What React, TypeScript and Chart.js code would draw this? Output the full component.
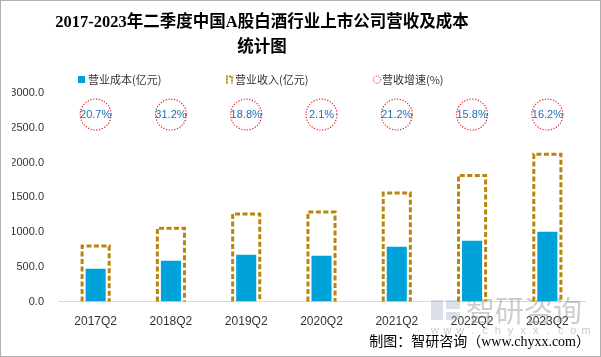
import React, { useEffect, useRef } from 'react';
import { Chart, registerables } from 'chart.js';

Chart.register(...registerables);

const categories = ['2017Q2', '2018Q2', '2019Q2', '2020Q2', '2021Q2', '2022Q2', '2023Q2'];
const costValues = [471, 586, 672, 658, 788, 874, 1004];
const revenueValues = [800, 1055, 1260, 1288, 1562, 1815, 2120];
const growthRates = [20.7, 31.2, 18.8, 2.1, 21.2, 15.8, 16.2];
const growthMarkerLevel = 2690;
const yMax = 3000;
const yStep = 500;

const titleLines = ['2017-2023年二季度中国A股白酒行业上市公司营收及成本', '统计图'];
const legendLabels = ['营业成本(亿元)', '营业收入(亿元)', '营收增速(%)'];
const sourceText = '制图：智研咨询（www.chyxx.com）';

const COST_COLOR = '#00a2da';
const REV_COLOR = '#b8860b';
const CIRCLE_COLOR = '#e0202a';
const LABEL_COLOR = '#1f6fb0';

const overlayPlugin = {
  id: 'overlay',
  beforeDatasetsDraw(chart: any) {
    const ctx = chart.ctx;
    ctx.save();
    // watermark
    ctx.fillStyle = 'rgba(150,165,190,0.35)';
    ctx.fillRect(430, 299, 12, 20);
    ctx.fillRect(445, 299, 14, 9);
    ctx.fillRect(445, 311, 14, 8);
    ctx.fillStyle = 'rgba(130,130,130,0.4)';
    ctx.font = '29px "Noto Sans CJK SC"';
    ctx.textBaseline = 'middle';
    ctx.textAlign = 'left';
    ctx.fillText('智研咨询', 465, 310);
    ctx.font = '11px "Liberation Sans"';
    ctx.fillStyle = 'rgba(150,150,150,0.5)';
    const wm = 'www.chyxx.com'.split('');
    const step = (582 - 431) / (wm.length - 1);
    ctx.textAlign = 'center';
    wm.forEach((c, i) => ctx.fillText(c, 434 + i * step, 330));
    ctx.restore();
  },
  afterDatasetsDraw(chart: any) {
    const ctx = chart.ctx;
    ctx.save();
    // dashed revenue boxes
    const revMeta = chart.getDatasetMeta(1);
    ctx.strokeStyle = REV_COLOR;
    ctx.lineWidth = 3;
    ctx.setLineDash([5, 2.5]);
    revMeta.data.forEach((el: any) => {
      const { x, y, base, width } = el.getProps(['x', 'y', 'base', 'width'], true);
      const l = x - width / 2;
      const r = x + width / 2;
      ctx.beginPath();
      ctx.moveTo(l, base);
      ctx.lineTo(l, y);
      ctx.lineTo(r, y);
      ctx.lineTo(r, base);
      ctx.stroke();
    });
    // growth circles
    const gMeta = chart.getDatasetMeta(2);
    gMeta.data.forEach((el: any, i: number) => {
      const { x, y } = el.getProps(['x', 'y'], true);
      ctx.strokeStyle = CIRCLE_COLOR;
      ctx.lineWidth = 1.2;
      ctx.setLineDash([1.2, 1.6]);
      ctx.beginPath();
      ctx.arc(x, y, 15.5, 0, Math.PI * 2);
      ctx.stroke();
      ctx.setLineDash([]);
      ctx.fillStyle = LABEL_COLOR;
      ctx.font = '11px "Liberation Sans"';
      ctx.textAlign = 'center';
      ctx.textBaseline = 'middle';
      ctx.fillText(growthRates[i].toFixed(1) + '%', x, y + 0.5);
    });
    ctx.restore();
  },
  afterDraw(chart: any) {
    const ctx = chart.ctx;
    ctx.save();
    // title
    ctx.fillStyle = '#000';
    ctx.font = 'bold 16.5px "Liberation Serif", "Noto Sans CJK SC"';
    ctx.textAlign = 'center';
    ctx.textBaseline = 'middle';
    ctx.fillText(titleLines[0], 261, 22);
    ctx.fillText(titleLines[1], 261, 47);
    // legend
    ctx.font = '11px "Noto Sans CJK SC"';
    ctx.textAlign = 'left';
    const ly = 78.5;
    ctx.fillStyle = COST_COLOR;
    ctx.fillRect(77, ly - 3.5, 7, 7);
    ctx.fillStyle = '#333';
    ctx.fillText(legendLabels[0], 87, ly);
    ctx.strokeStyle = REV_COLOR;
    ctx.lineWidth = 2;
    ctx.setLineDash([2, 1]);
    ctx.beginPath();
    ctx.moveTo(226, ly + 4);
    ctx.lineTo(226, ly - 3);
    ctx.lineTo(231, ly - 3);
    ctx.lineTo(231, ly + 4);
    ctx.stroke();
    ctx.fillText(legendLabels[1], 234, ly);
    ctx.strokeStyle = CIRCLE_COLOR;
    ctx.lineWidth = 1;
    ctx.setLineDash([1, 1]);
    ctx.beginPath();
    ctx.arc(376, ly, 3.7, 0, Math.PI * 2);
    ctx.stroke();
    ctx.setLineDash([]);
    ctx.fillText(legendLabels[2], 381, ly);
    // source
    ctx.fillStyle = '#000';
    ctx.font = '14px "Liberation Serif", "Noto Sans CJK SC"';
    ctx.textAlign = 'right';
    ctx.fillText(sourceText, 589, 341);
    ctx.restore();
  },
};

export default function App() {
  const ref = useRef<HTMLCanvasElement | null>(null);
  useEffect(() => {
    if (!ref.current) return;
    const chart = new Chart(ref.current, {
      type: 'bar',
      data: {
        labels: categories,
        datasets: [
          {
            label: legendLabels[0],
            data: costValues,
            backgroundColor: COST_COLOR,
            borderWidth: 0,
            grouped: false,
            categoryPercentage: 0.8,
            barPercentage: 1 / 3,
            order: 1,
          } as any,
          {
            label: legendLabels[1],
            data: revenueValues,
            backgroundColor: 'rgba(0,0,0,0)',
            borderWidth: 0,
            grouped: false,
            categoryPercentage: 0.8,
            barPercentage: 0.45,
            order: 2,
          } as any,
          {
            type: 'line',
            label: legendLabels[2],
            data: categories.map(() => growthMarkerLevel),
            showLine: false,
            pointRadius: 0,
            pointHoverRadius: 0,
          } as any,
        ],
      },
      options: {
        animation: false,
        responsive: true,
        maintainAspectRatio: false,
        layout: { padding: { top: 92, left: 11, right: 15, bottom: 14 } },
        plugins: {
          legend: { display: false },
          title: { display: false },
          tooltip: { enabled: false },
        },
        scales: {
          x: {
            grid: { display: false, drawTicks: false },
            border: { display: true, color: '#d9d9d9', width: 1 },
            ticks: { color: '#333', font: { size: 12, family: '"Liberation Sans"' }, padding: 13 },
          },
          y: {
            min: 0,
            max: yMax,
            grid: { display: false, drawTicks: false },
            border: { display: false },
            afterFit: (scale: any) => {
              scale.width = 46;
            },
            ticks: {
              stepSize: yStep,
              color: '#333',
              font: { size: 11, family: '"Liberation Sans"' },
              padding: 14,
              callback: (v: any) => Number(v).toFixed(1),
            },
          },
        },
      },
      plugins: [overlayPlugin],
    });
    return () => chart.destroy();
  }, []);
  return (
    <div
      style={{
        position: 'fixed',
        left: 0,
        top: 0,
        width: 601,
        height: 357,
        boxSizing: 'border-box',
        border: '1px solid #b0b0b0',
        background: '#fff',
      }}
    >
      <canvas ref={ref} />
    </div>
  );
}
